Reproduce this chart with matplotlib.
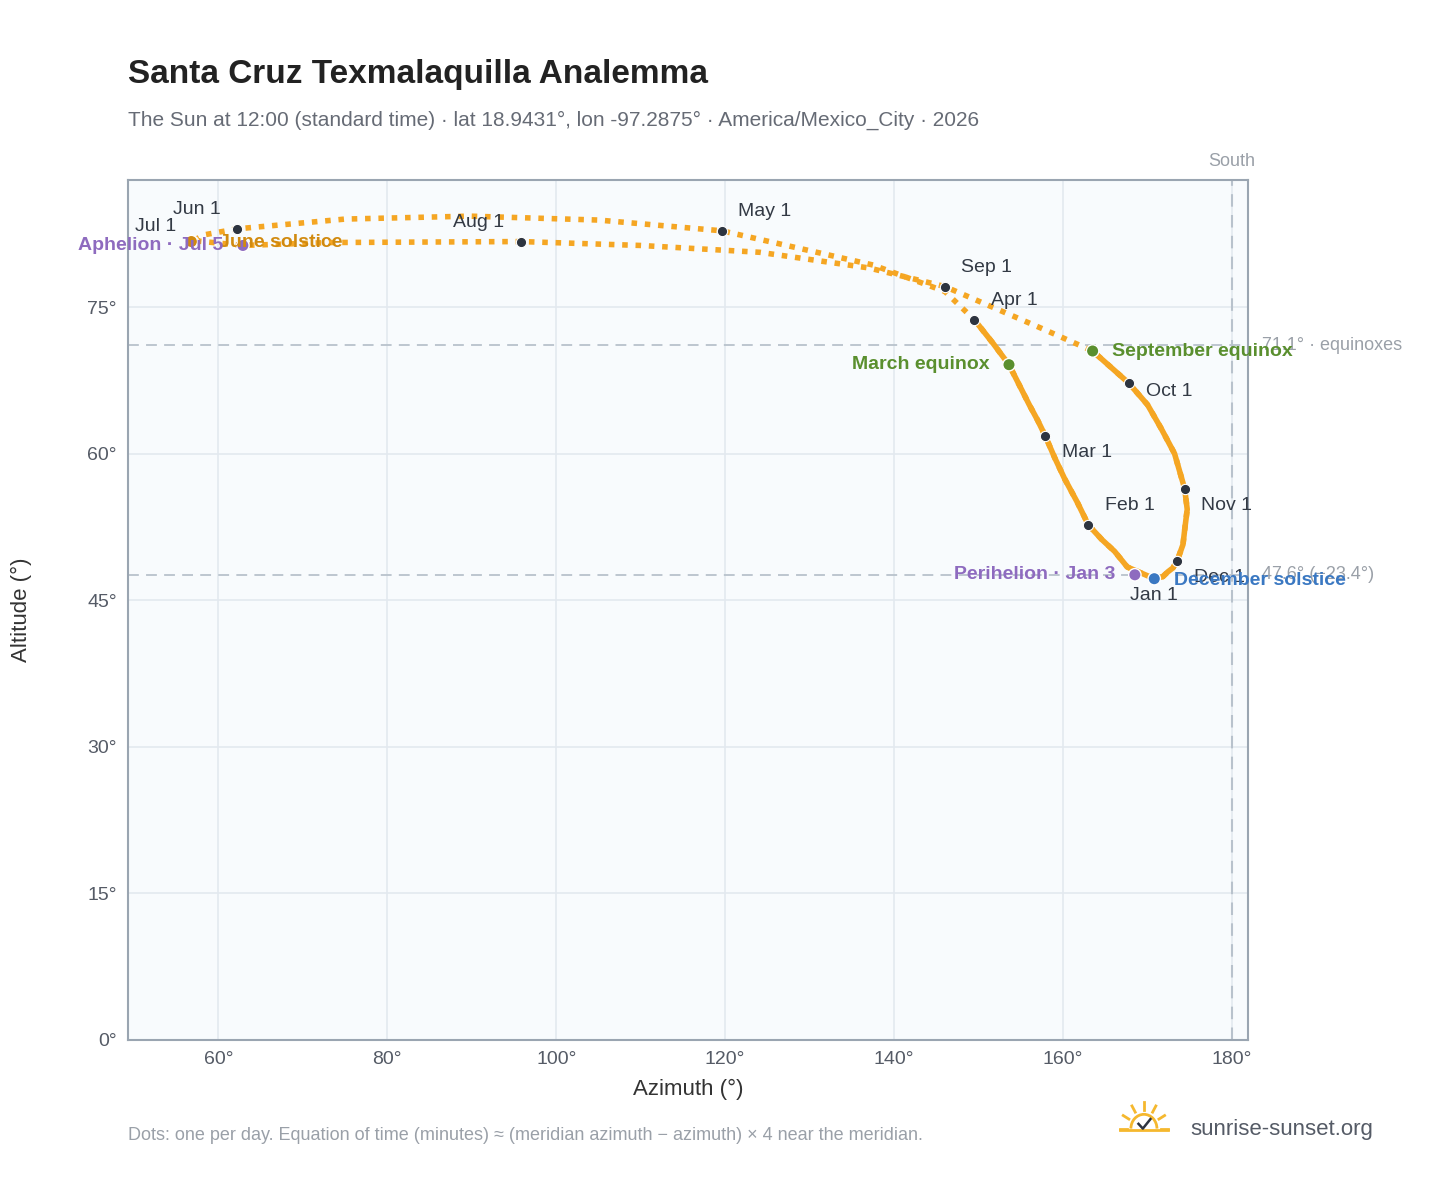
import math

import matplotlib.pyplot as plt
from matplotlib.patches import Arc

plt.rcParams["font.family"] = ["Liberation Sans", "DejaVu Sans"]

# path points through the year (azimuth, altitude)
path_az = [170.8, 167.6, 166.1, 164.6, 163.0, 161.7, 160.2, 159.0, 157.9, 157.0, 156.0, 153.6,
           151.7, 149.5, 146.0, 137.5, 119.6, 105.0, 89.8, 75.0, 62.2, 58.4, 56.8, 57.0, 62.9,
           73.2, 95.8, 110.0, 124.1, 137.0, 146.0, 157.5, 163.5, 167.8, 170.0, 171.6, 173.2,
           174.4, 174.7, 174.4, 174.2, 173.5, 173.0, 172.4, 171.8, 170.8]
path_alt = [47.2, 48.4, 50.0, 51.2, 52.7, 55.0, 57.4, 59.6, 61.8, 63.4, 65.0, 69.1,
            71.3, 73.7, 76.6, 79.3, 82.8, 83.9, 84.3, 84.0, 83.0, 82.4, 81.7, 81.8, 81.3,
            81.6, 81.7, 81.3, 80.6, 79.0, 77.1, 72.8, 70.5, 67.2, 65.0, 62.6, 60.0,
            56.4, 54.3, 52.2, 50.7, 49.0, 48.3, 47.9, 47.4, 47.2]
# the slow-moving stretches where daily dots merge into a solid line
dense_1 = (0, 14)
dense_2 = (32, 46)

month_labels = ["Jan 1", "Feb 1", "Mar 1", "Apr 1", "May 1", "Jun 1",
                "Jul 1", "Aug 1", "Sep 1", "Oct 1", "Nov 1", "Dec 1"]
month_az = [170.8, 163.0, 157.9, 149.5, 119.6, 62.2, 57.0, 95.8, 146.0, 167.8, 174.4, 173.5]
month_alt = [47.2, 52.7, 61.8, 73.7, 82.8, 83.0, 81.8, 81.7, 77.1, 67.2, 56.4, 49.0]
label_off = [(0, -12), (12, 14), (12, -12), (12, 14), (12, 14), (-12, 14),
             (-12, 10), (-12, 14), (12, 14), (12, -6), (12, -12), (12, -12)]

events = ["March equinox", "June solstice", "September equinox", "December solstice",
          "Perihelion · Jan 3", "Aphelion · Jul 5"]
event_az = [153.6, 56.8, 163.5, 170.8, 168.5, 62.9]
event_alt = [69.1, 81.7, 70.5, 47.2, 47.6, 81.3]
event_colors = ["#5a8f2e", "#d18a0f", "#5a8f2e", "#3a78c2", "#8e6bbf", "#8e6bbf"]
event_off = [(-14, 0), (20, -1), (14, 0), (14, -1), (-14, 0), (-14, 0)]

equinox_alt = 71.1
solstice_alt = 47.6

fig = plt.figure(figsize=(14.48, 11.88), dpi=100)
ax = fig.add_axes([0.0884, 0.1246, 0.7735, 0.7239])
ax.set_facecolor("#f8fbfd")
ax.set_xlim(49.3, 181.9)
ax.set_ylim(0, 88.0)

ax.set_xticks(range(60, 181, 20))
ax.set_xticklabels([f"{v}°" for v in range(60, 181, 20)])
ax.set_yticks(range(0, 76, 15))
ax.set_yticklabels([f"{v}°" for v in range(0, 76, 15)])
ax.grid(True, color="#e3e9ef", linewidth=1.2)
ax.set_axisbelow(True)
ax.tick_params(length=0, labelsize=14, colors="#555b66", pad=8)
for s in ax.spines.values():
    s.set_color("#9aa5b1")
    s.set_linewidth(1.5)
ax.set_xlabel("Azimuth (°)", fontsize=16, color="#333", labelpad=8)
ax.set_ylabel("Altitude (°)", fontsize=16, color="#333", labelpad=40)

ax.axhline(equinox_alt, color="#b8c2cc", ls=(0, (6, 4)), lw=1.3)
ax.axhline(solstice_alt, color="#b8c2cc", ls=(0, (6, 4)), lw=1.3)
ax.axvline(180, color="#b8c2cc", ls=(0, (6, 4)), lw=1.5)
ax.text(180, 89, "South", ha="center", va="bottom", fontsize=13, color="#9aa0a8")
ax.text(183.5, equinox_alt, "71.1° · equinoxes", va="center", fontsize=13, color="#9aa0a8",
        clip_on=False)
ax.text(183.5, solstice_alt, "47.6° (−23.4°)", va="center", fontsize=13, color="#9aa0a8",
        clip_on=False)

ax.plot(path_az, path_alt, color="#f5a623", lw=4, ls=(0, (1, 1.4)), zorder=3)
for a, b in (dense_1, dense_2):
    ax.plot(path_az[a:b], path_alt[a:b], color="#f5a623", lw=4, zorder=3,
            solid_joinstyle="round")

ax.scatter(month_az, month_alt, s=55, color="#2d3440", zorder=5, edgecolor="white", linewidth=0.8)
for lab, x, y, (dx, dy) in zip(month_labels, month_az, month_alt, label_off):
    ha = "left" if dx > 0 else ("right" if dx < 0 else "center")
    ax.annotate(lab, (x, y), xytext=(dx, dy), textcoords="offset points", ha=ha,
                va="center", fontsize=14, color="#333a45", zorder=6)

ax.scatter(event_az, event_alt, s=80, color=event_colors, zorder=6, edgecolor="white", linewidth=1)
for lab, x, y, c, (dx, dy) in zip(events, event_az, event_alt, event_colors, event_off):
    ax.annotate(lab, (x, y), xytext=(dx, dy), textcoords="offset points",
                ha="left" if dx > 0 else "right", va="center", fontsize=14,
                fontweight="bold", color=c, zorder=7, annotation_clip=False)

fig.text(0.0884, 0.93, "Santa Cruz Texmalaquilla Analemma", fontsize=24, fontweight="bold", color="#222")
fig.text(0.0884, 0.894, "The Sun at 12:00 (standard time) · lat 18.9431°, lon -97.2875° · "
         "America/Mexico_City · 2026", fontsize=15, color="#666b75")
fig.text(0.0884, 0.040, "Dots: one per day. Equation of time (minutes) ≈ (meridian azimuth − azimuth) × 4 "
         "near the meridian.", fontsize=13, color="#9aa0a8")
fig.text(0.822, 0.045, "sunrise-sunset.org", fontsize=16, color="#555b66")

# small sun logo
lax = fig.add_axes([0.772, 0.038, 0.036, 0.036])
lax.set_xlim(-1.2, 1.2)
lax.set_ylim(-0.6, 1.2)
lax.axis("off")
lax.add_patch(Arc((0, 0), 1.2, 1.2, theta1=0, theta2=180, color="#f5b82e", lw=2))
for a in [0, 30, 60, 90, 120, 150, 180]:
    r = math.radians(a)
    lax.plot([0.8 * math.cos(r), 1.1 * math.cos(r)], [0.8 * math.sin(r), 1.1 * math.sin(r)],
             color="#f5b82e", lw=2)
lax.plot([-1.1, 1.1], [-0.05, -0.05], color="#f5b82e", lw=2)
lax.plot([-0.25, -0.05, 0.3], [0.2, 0.0, 0.4], color="#2d3440", lw=1.8)

fig.savefig("out.png", dpi=100)
